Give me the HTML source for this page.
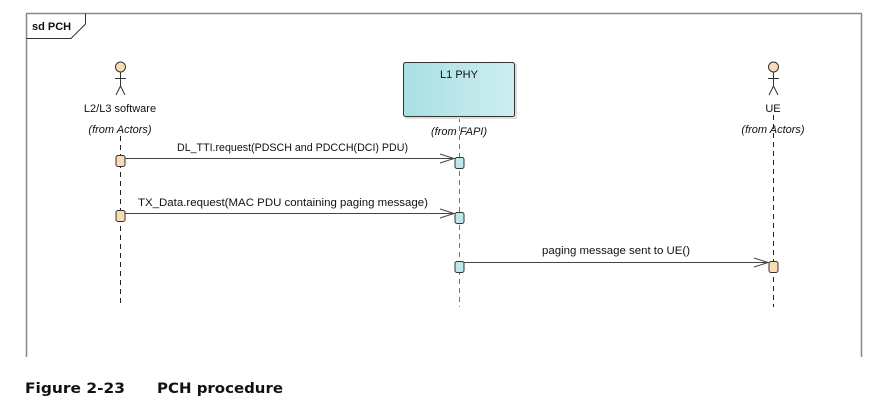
<!DOCTYPE html>
<html><head><meta charset="utf-8"><style>
html,body{margin:0;padding:0;background:#fff;}
svg{display:block;}
text{font-family:"Liberation Sans",sans-serif;font-size:11px;fill:#111;}
</style></head><body>
<svg width="880" height="407" viewBox="0 0 880 407">
<defs>
<linearGradient id="g" x1="0" x2="1" y1="0" y2="0">
<stop offset="0" stop-color="#a9dfe3"/><stop offset="1" stop-color="#cdeef0"/>
</linearGradient>
</defs>
<!-- frame -->
<path d="M26.5 357 V13.5 H861.5 V357" fill="none" stroke="#888" stroke-width="1.5"/>
<path d="M26.5 38.5 H71 L85.5 24 V13.5" fill="none" stroke="#333" stroke-width="1"/>
<text x="32" y="30" style="font-weight:bold;font-size:11px">sd PCH</text>

<!-- lifelines -->
<g stroke="#222" stroke-dasharray="5,4" stroke-width="1">
<line x1="120.5" y1="136" x2="120.5" y2="307"/>
<line x1="459.5" y1="117" x2="459.5" y2="307" stroke="#777"/>
<line x1="773.5" y1="115" x2="773.5" y2="307"/>
</g>

<!-- actor L2/L3 -->
<g stroke="#333" stroke-width="1" fill="none">
<circle cx="120.5" cy="67" r="5" fill="#f8dcb6"/>
<line x1="120.5" y1="72" x2="120.5" y2="86"/>
<line x1="115" y1="78.5" x2="126" y2="78.5"/>
<path d="M116 95 L120.5 86 L125 95"/>
<circle cx="773.5" cy="67" r="5" fill="#f8dcb6"/>
<line x1="773.5" y1="72" x2="773.5" y2="86"/>
<line x1="768" y1="78.5" x2="779" y2="78.5"/>
<path d="M769 95 L773.5 86 L778 95"/>
</g>
<text x="120" y="112" text-anchor="middle">L2/L3 software</text>
<text x="120" y="133" text-anchor="middle" font-style="italic">(from Actors)</text>
<text x="773" y="112" text-anchor="middle">UE</text>
<text x="773" y="133" text-anchor="middle" font-style="italic">(from Actors)</text>

<!-- PHY box -->
<rect x="405" y="64" width="112" height="55" rx="2" fill="#ddd"/>
<rect x="403.5" y="62.5" width="111" height="54" rx="2" fill="url(#g)" stroke="#333"/>
<text x="459" y="78" text-anchor="middle">L1 PHY</text>
<text x="459" y="135" text-anchor="middle" font-style="italic">(from FAPI)</text>

<!-- messages -->
<g stroke="#444" stroke-width="1" fill="none">
<line x1="125" y1="158.5" x2="454" y2="158.5"/>
<path d="M440 154 L454 158.5 L440 163"/>
<line x1="125" y1="213.5" x2="454" y2="213.5"/>
<path d="M440 209 L454 213.5 L440 218"/>
<line x1="464" y1="262.5" x2="768" y2="262.5"/>
<path d="M754 258 L768 262.5 L754 267"/>
</g>
<text x="177" y="151" textLength="231" lengthAdjust="spacingAndGlyphs">DL_TTI.request(PDSCH and PDCCH(DCI) PDU)</text>
<text x="138" y="206" textLength="290" lengthAdjust="spacingAndGlyphs">TX_Data.request(MAC PDU containing paging message)</text>
<text x="542" y="254" textLength="148" lengthAdjust="spacingAndGlyphs">paging message sent to UE()</text>

<!-- activations -->
<g stroke="#333" stroke-width="1">
<rect x="116" y="155.5" width="9" height="11" rx="2" fill="#f8dcb6"/>
<rect x="116" y="210.5" width="9" height="11" rx="2" fill="#f8dcb6"/>
<rect x="455" y="157.5" width="9" height="11" rx="2" fill="#bfe6e9"/>
<rect x="455" y="212.5" width="9" height="11" rx="2" fill="#bfe6e9"/>
<rect x="455" y="261.5" width="9" height="11" rx="2" fill="#bfe6e9"/>
<rect x="769" y="261.5" width="9" height="11" rx="2" fill="#f8dcb6"/>
</g>

<!-- caption -->
<text x="25" y="393" style="font-family:'DejaVu Sans',sans-serif;font-weight:bold;font-size:14px" textLength="100" lengthAdjust="spacingAndGlyphs">Figure 2-23</text>
<text x="157" y="393" style="font-family:'DejaVu Sans',sans-serif;font-weight:bold;font-size:14px" textLength="126" lengthAdjust="spacingAndGlyphs">PCH procedure</text>
</svg>
</body></html>
